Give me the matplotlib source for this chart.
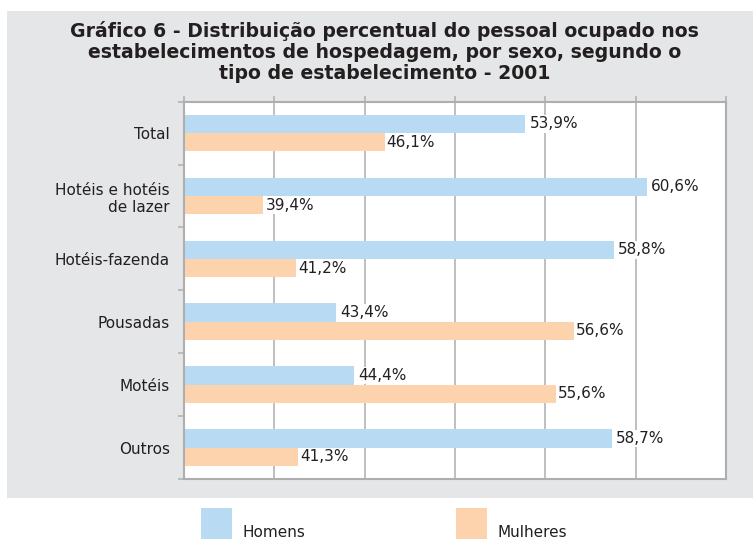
import numpy as np
import matplotlib
matplotlib.use("Agg")
import matplotlib.pyplot as plt
from matplotlib.patches import Rectangle

plt.rcParams['font.family'] = ['DejaVu Sans']

## data
categorias = ["Total", "Hotéis e hotéis\nde lazer", "Hotéis-fazenda", "Pousadas", "Motéis", "Outros"]
homens = [53.9, 60.6, 58.8, 43.4, 44.4, 58.7]
mulheres = [46.1, 39.4, 41.2, 56.6, 55.6, 41.3]
series = ["Homens", "Mulheres"]
titulo = ["Gráfico 6 - Distribuição percentual do pessoal ocupado nos",
          "estabelecimentos de hospedagem, por sexo, segundo o",
          "tipo de estabelecimento - 2001"]

azul = "#b8daf2"
laranja = "#fdd3ae"
cinza_fundo = "#e5e6e7"
cinza_linha = "#aeaeae"
texto = "#231f20"

W, H = 753, 539
fig = plt.figure(figsize=(W / 100, H / 100), dpi=100)
fig.patch.set_facecolor("white")

##gray panel behind title and plot
fig.add_artist(Rectangle((7 / W, (H - 497.7) / H), 1 - 7 / W, (497.7 - 11) / H,
                         transform=fig.transFigure, facecolor=cinza_fundo, edgecolor="none", zorder=0))

for i, linha in enumerate(titulo):
    fig.text(384.5 / W, 1 - (36.7 + 21 * i) / H, linha, ha="center", va="baseline",
             fontsize=13.6, fontweight="bold", color=texto)

ax = fig.add_axes([184 / W, (H - 479) / H, (726 - 184) / W, (479 - 101.7) / H])
ax.set_facecolor("white")

y = np.arange(len(categorias))
h = 0.291
ax.barh(y - h / 2, homens, height=h, color=azul, zorder=2)
ax.barh(y + h / 2, mulheres, height=h, color=laranja, zorder=2)

for yi, v in zip(y - h / 2, homens):
    ax.annotate(f"{v:.1f}%".replace(".", ","), (v, yi), xytext=(3, 0), textcoords="offset points",
                va="center", ha="left", fontsize=11, color=texto, zorder=4,
                bbox=dict(facecolor="white", edgecolor="none", pad=1))
for yi, v in zip(y + h / 2, mulheres):
    ax.annotate(f"{v:.1f}%".replace(".", ","), (v, yi), xytext=(1.5, 0), textcoords="offset points",
                va="center", ha="left", fontsize=11, color=texto, zorder=4,
                bbox=dict(facecolor="white", edgecolor="none", pad=1))

ax.set_xlim(35, 65)
ax.set_ylim(len(categorias) - 0.5, -0.5)
ax.set_xticks(np.arange(35, 66, 5))
ax.xaxis.tick_top()
ax.tick_params(axis="x", which="major", length=4.5, width=1.1, color=cinza_linha, labeltop=False)
ax.grid(axis="x", color=cinza_linha, linewidth=1.1, zorder=1)

ax.set_yticks(y)
ax.set_yticklabels(categorias, fontsize=11, color=texto)
ax.tick_params(axis="y", which="major", length=0, pad=10)
ax.set_yticks(np.arange(-0.5, len(categorias), 1), minor=True)
ax.tick_params(axis="y", which="minor", length=4.5, width=1.1, color=cinza_linha)

for s in ax.spines.values():
    s.set_color(cinza_linha)
    s.set_linewidth(1.5)

##legend
for i, (nome, cor) in enumerate(zip(series, [azul, laranja])):
    x0 = [200.7, 455.7][i]
    fig.add_artist(Rectangle((x0 / W, 0), 31.3 / W, (H - 508) / H, transform=fig.transFigure,
                             facecolor=cor, edgecolor="none"))
    fig.text((x0 + 42) / W, (H - 537) / H, nome, ha="left", va="baseline", fontsize=11, color=texto)

fig.savefig("out.png", dpi=100)
